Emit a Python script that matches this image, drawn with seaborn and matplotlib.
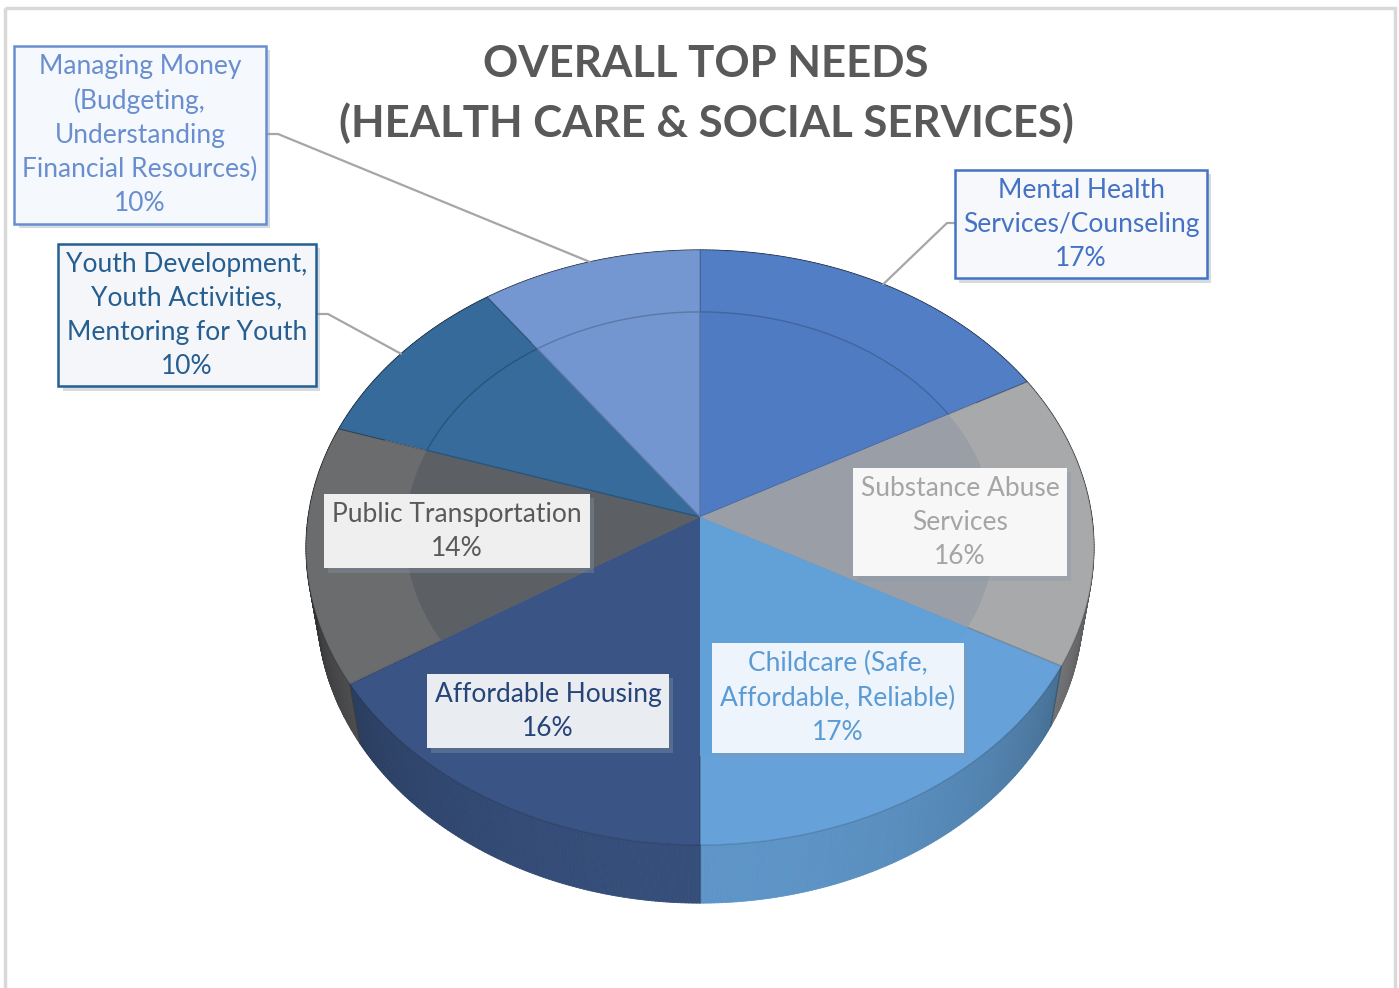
import numpy as np
import matplotlib
matplotlib.use("Agg")
import matplotlib.pyplot as plt
import matplotlib.patheffects as pe
import seaborn as sns
from matplotlib.collections import PolyCollection
from matplotlib.colors import to_rgb
from matplotlib.path import Path
from matplotlib.transforms import Transform

# slices, clockwise from 12 o'clock
categories = [
    "Mental Health\nServices/Counseling",
    "Substance Abuse\nServices",
    "Childcare (Safe,\nAffordable, Reliable)",
    "Affordable Housing",
    "Public Transportation",
    "Youth Development,\nYouth Activities,\nMentoring for Youth",
    "Managing Money\n(Budgeting,\nUnderstanding\nFinancial Resources)",
]
shares = [17, 16, 17, 16, 14, 10, 10]

top_colors = ["#527EC6", "#A8A9AB", "#66A2D9", "#3A5585", "#6B6C6E", "#356A9A", "#7496D1"]
inner_colors = ["#4F7BC3", "#9A9EA6", "#62A0D8", "#3A5585", "#5C6065", "#366B9B", "#7395D0"]
label_colors = ["#4472C4", "#A5A5A5", "#5B9BD5", "#264478", "#595959", "#255E91", "#698ED0"]
box_faces = ["#F6F8FC", "#F7F7F7", "#EEF4FB", "#E9ECF1", "#EFEFEF", "#F4F6F9", "#F5F8FC"]
box_edges = ["#4472C4", "none", "none", "none", "none", "#255E91", "#698ED0"]

# layout (pixels)
label_pos = [(1081, 224), (960, 522), (838, 698), (548, 711), (457, 531), (187, 315), (140, 135)]
callout_elbows = {0: (958, 947), 5: (313, 328), 6: (266, 278)}

# view of the tilted disc
CX, CY = 700, 517
SCALE, DIST = 2524.0, 6.44
TILT = np.radians(48.7)
DEPTH = 0.244


class Tilt(Transform):
    input_dims = output_dims = 2
    is_separable = False
    has_inverse = False

    def __init__(self, h=0.0):
        super().__init__()
        self.h = h

    def transform_non_affine(self, values):
        uv = np.asarray(values, dtype=float).reshape(-1, 2)
        u, v = uv[:, 0], uv[:, 1]
        w = DIST + v * np.cos(TILT) - self.h * np.sin(TILT)
        x = CX + SCALE * u / w
        y = CY - SCALE * (v * np.sin(TILT) + self.h * np.cos(TILT)) / w
        return np.column_stack([x, y])

    def transform_path_non_affine(self, path):
        pts = [seg(np.linspace(0, 1, 60)) for seg, _ in path.iter_bezier()]
        return Path(self.transform_non_affine(np.concatenate(pts)))


def shade(c, f):
    r, g, b = to_rgb(c)
    return (r * f, g * f, b * f)


sns.set_theme(style="white")
plt.rcParams["font.family"] = ["Lato", "DejaVu Sans"]

fig = plt.figure(figsize=(13.99, 9.88), dpi=100)
ax = fig.add_axes([0, 0, 1, 1])

top = Tilt(0.0)
bottom = Tilt(-DEPTH)

# side wall
bounds = 90 - 3.6 * np.concatenate([[0], np.cumsum(shares)])
quads, fills = [], []
for i, c in enumerate(top_colors):
    angs = np.linspace(bounds[i], bounds[i + 1], int(abs(bounds[i] - bounds[i + 1])) * 2 + 2)
    for a0, a1 in zip(angs[:-1], angs[1:]):
        t = np.radians([a0, a1])
        ring = np.column_stack([np.cos(t), np.sin(t)])
        q = np.vstack([top.transform(ring), bottom.transform(ring[::-1])])
        quads.append(q)
        s = max(0.0, -np.sin(np.radians((a0 + a1) / 2)))
        fills.append(shade(c, 0.25 + 0.67 * s ** 0.6))
ax.add_collection(PolyCollection(quads, facecolors=fills, edgecolors=fills, linewidths=0.6, zorder=1))

for b in bounds[:-1]:
    t = np.radians(b)
    if np.sin(t) < 0:
        p = np.array([[np.cos(t), np.sin(t)]])
        a, z = top.transform(p)[0], bottom.transform(p)[0]
        ax.plot([a[0], z[0]], [a[1], z[1]], color=(0, 0, 0, 0.18), lw=1, zorder=1.5)

# top face
wedges, _ = ax.pie(shares, colors=top_colors, startangle=90, counterclock=False,
                   radius=1, center=(0, 0),
                   wedgeprops=dict(edgecolor=(0, 0, 0, 0.15), linewidth=1, zorder=2))
inner, _ = ax.pie(shares, colors=inner_colors, startangle=90, counterclock=False,
                  radius=0.75, center=(0, 0),
                  wedgeprops=dict(edgecolor="none", linewidth=0, zorder=3))
for w in wedges + inner:
    w.set_transform(top + ax.transData)
for w, c in zip(inner, top_colors):
    mid = np.radians((w.theta1 + w.theta2) / 2)
    if np.sin(mid) > 0:
        w.set_edgecolor(shade(c, 0.8))
        w.set_linewidth(1)

ax.set_xlim(0, 1399)
ax.set_ylim(988, 0)
ax.set_aspect("auto")
ax.axis("off")

# callout lines
for i, (bx, ex) in callout_elbows.items():
    mid = np.radians((bounds[i] + bounds[i + 1]) / 2)
    rim = top.transform(np.array([[np.cos(mid), np.sin(mid)]]))[0]
    y0 = label_pos[i][1] - 1
    ax.plot([bx, ex, rim[0]], [y0, y0, rim[1]], color="#A6A6A6", lw=1.6, zorder=4,
            solid_joinstyle="miter")

# data labels
for i, name in enumerate(categories):
    txt = ax.text(label_pos[i][0], label_pos[i][1], f"{name}\n{shares[i]}%",
                  ha="center", va="center", fontsize=19, color=label_colors[i],
                  linespacing=1.45, zorder=6,
                  bbox=dict(boxstyle="square,pad=0.3", fc=box_faces[i],
                            ec=box_edges[i], lw=1.8))
    txt.get_bbox_patch().set_path_effects(
        [pe.SimplePatchShadow(offset=(3, -3), shadow_rgbFace="#8899AA", alpha=0.35), pe.Normal()])

ax.text(706, 94, "OVERALL TOP NEEDS\n(HEALTH CARE & SOCIAL SERVICES)", ha="center", va="center",
        fontsize=31.5, fontweight="bold", color="#595959", linespacing=1.55, zorder=6)

ax.add_patch(plt.Rectangle((5, 8), 1390, 1000, fill=False, ec="#D9D9D9", lw=2.5, zorder=7))

fig.savefig("out.png", dpi=100)
